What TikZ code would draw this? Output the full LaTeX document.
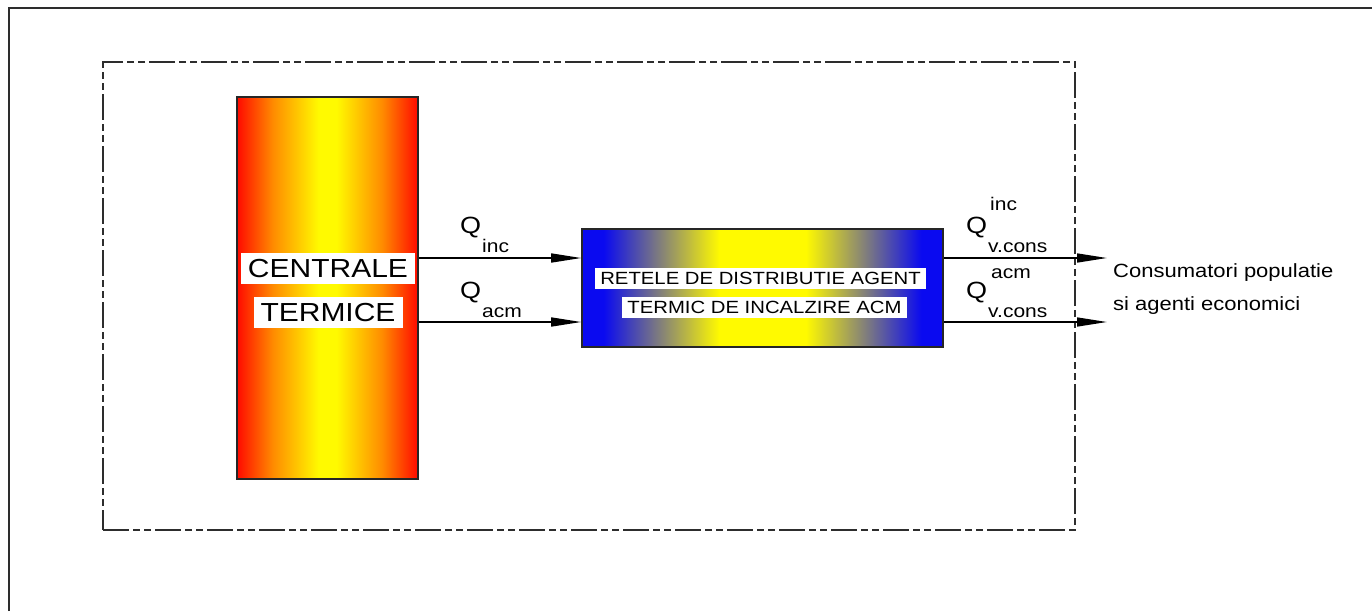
\documentclass[tikz,border=0pt]{standalone}
\usepackage{fontspec}
\setmainfont{Liberation Sans}
\usetikzlibrary{arrows.meta}

\definecolor{flame}{RGB}{255,10,0}
\definecolor{amber}{RGB}{255,140,0}
\definecolor{sun}{RGB}{255,250,0}
\definecolor{deepblue}{RGB}{10,10,240}
\definecolor{framegray}{RGB}{45,45,45}

% red - orange - yellow - orange - red, across the box width (25bp..75bp)
\pgfdeclarehorizontalshading{fireband}{100bp}{color(0bp)=(flame); color(25bp)=(flame);
  color(35bp)=(amber); color(47.5bp)=(sun); color(52.5bp)=(sun); color(65bp)=(amber);
  color(75bp)=(flame); color(100bp)=(flame)}
% blue - yellow - blue, across the box width (25bp..75bp)
\pgfdeclarehorizontalshading{coolband}{100bp}{color(0bp)=(deepblue); color(28bp)=(deepblue);
  color(44bp)=(sun); color(56bp)=(sun); color(72bp)=(deepblue); color(100bp)=(deepblue)}

\newcommand{\sqz}[1]{\scalebox{1}[0.87]{#1}}

\begin{document}
\begin{tikzpicture}[x=1pt,y=-1pt,
  blockbox/.style={draw=black!85, line width=1.6pt, inner sep=0pt},
  boxlabel/.style={fill=white, inner ysep=0pt},
  biglabel/.style={boxlabel, font=\fontsize{30}{30}\selectfont, inner xsep=7pt,
    text height=24.85pt, text depth=6.15pt},
  midlabel/.style={boxlabel, font=\fontsize{20.3}{20.3}\selectfont, inner xsep=5.5pt,
    text height=16.25pt, text depth=3.8pt},
  qsym/.style={anchor=base west, inner sep=0pt, font=\fontsize{27}{27}\selectfont},
  qidx/.style={anchor=base west, inner sep=0pt, font=\fontsize{21}{21}\selectfont},
  plain/.style={anchor=base west, inner sep=0pt, font=\fontsize{22}{22}\selectfont},
  flow/.style={line width=1.5pt, -{Triangle[length=30pt,width=9pt]}},
  sysline/.style={draw=framegray, line width=2.2pt,
    dash pattern=on 26pt off 4pt on 7pt off 4pt on 7pt off 4pt}]

\useasboundingbox (0,0) rectangle (1372,611);

% outer frame
\draw[framegray, line width=2.5pt] (9,611) -- (9,8) -- (1372,8);

% system boundary
\node[sysline, minimum width=972pt, minimum height=468pt, inner sep=0pt] (sys) at (589,296) {};

% heat plants
\node[blockbox, shading=fireband, minimum width=181pt, minimum height=382pt] (ct) at (327.5,288) {};
\node[biglabel] (ct1) at (328,268.5) {\sqz{CENTRALE}};
\node[biglabel] (ct2) at (328,312.5) {\sqz{TERMICE}};

% distribution networks
\node[blockbox, shading=coolband, minimum width=361pt, minimum height=118pt] (rd) at (762.5,288) {};
\node[midlabel] (rd1) at (760.5,278.5) {\sqz{RETELE DE DISTRIBUTIE AGENT}};
\node[midlabel] (rd2) at (764.5,307.5) {\sqz{TERMIC DE INCALZIRE ACM}};

% flow levels and free ends
\coordinate (lvA) at (0,258);
\coordinate (lvB) at (0,322);
\coordinate (outA) at (1107,258);
\coordinate (outB) at (1107,322);

\draw[flow] (ct.east |- lvA) -- (rd.west |- lvA);
\draw[flow] (ct.east |- lvB) -- (rd.west |- lvB);
\draw[flow] (rd.east |- outA) -- (outA);
\draw[flow] (rd.east |- outB) -- (outB);

% flow labels, left
\node[qsym] (qa) at (460,233) {\sqz{Q}};
\node[qidx] (qai) at (482,252) {\sqz{inc}};
\node[qsym] (qb) at (460,298) {\sqz{Q}};
\node[qidx] (qbi) at (482,317) {\sqz{acm}};

% flow labels, right
\node[qsym] (qc) at (966,233) {\sqz{Q}};
\node[qidx] (qcs) at (990,210) {\sqz{inc}};
\node[qidx] (qci) at (988,252) {\sqz{v.cons}};
\node[qsym] (qd) at (966,298) {\sqz{Q}};
\node[qidx] (qds) at (991,278) {\sqz{acm}};
\node[qidx] (qdi) at (988,317) {\sqz{v.cons}};

% consumers
\node[plain] (cons1) at (1113,277) {\sqz{Consumatori populatie}};
\node[plain] (cons2) at (1113,310) {\sqz{si agenti economici}};

\end{tikzpicture}
\end{document}
